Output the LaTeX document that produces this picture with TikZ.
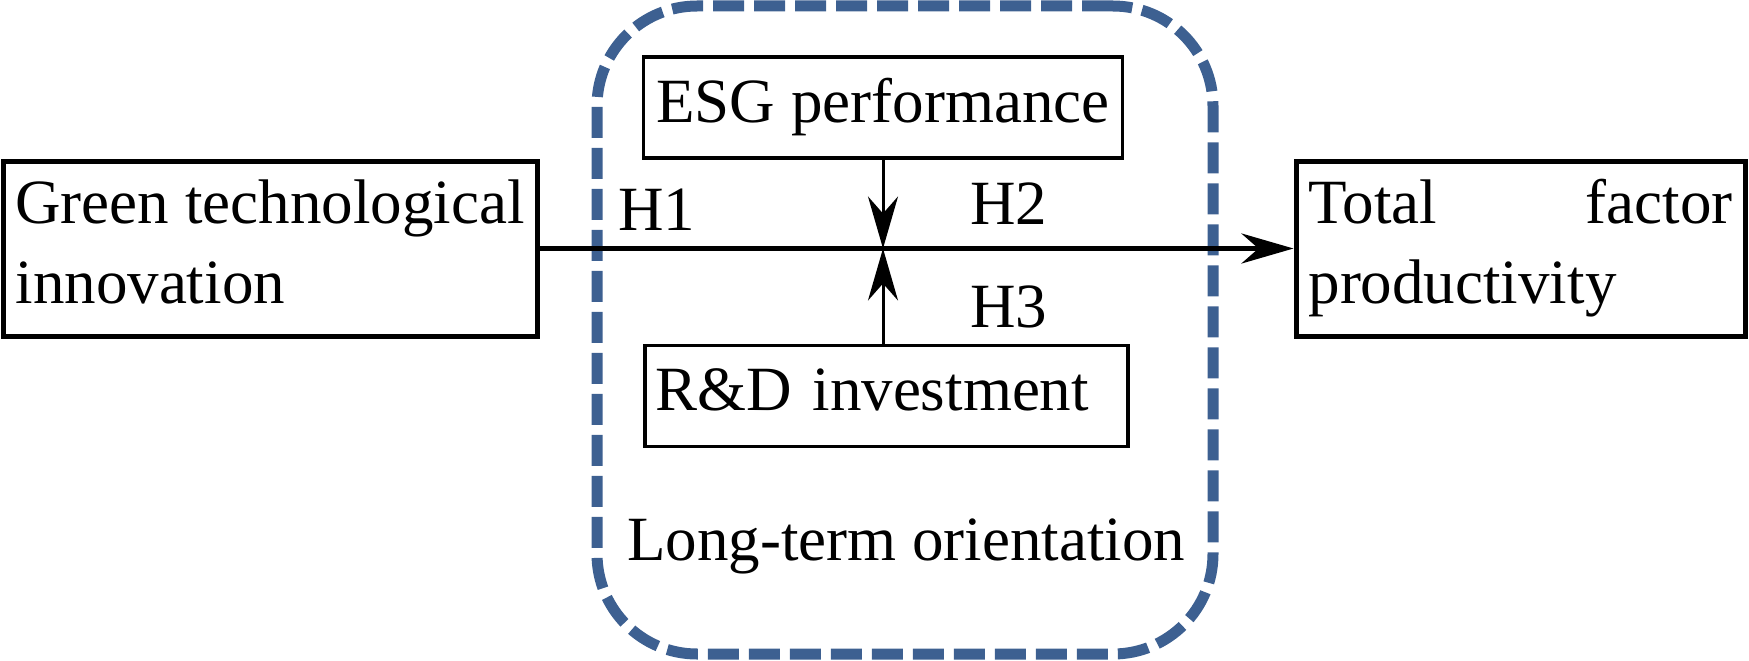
\documentclass[tikz,border=0pt]{standalone}
\usepackage{fontspec}
\setmainfont{Liberation Serif}
\usetikzlibrary{arrows.meta}
\definecolor{dashblue}{RGB}{61,96,145}
\begin{document}
\begin{tikzpicture}[x=1pt,y=-1pt,
  every node/.style={font=\fontsize{63pt}{80pt}\selectfont},
  outerbox/.style={draw, line width=5pt, inner sep=0pt, minimum height=175pt, align=left},
  innerbox/.style={draw, line width=3.5pt, inner sep=0pt, text height=43pt, text depth=14pt, minimum height=101pt},
  hyp/.style={anchor=base west, inner sep=0pt},
  tip/.style={-{Stealth[length=52pt,width=30pt,inset=17pt]}},
  groupbox/.style={draw=dashblue, line width=11pt, rounded corners=100pt, dash pattern=on 31pt off 10pt, inner sep=0pt}
]
\useasboundingbox (0,0) rectangle (1749,661);
\node[groupbox, minimum width=616pt, minimum height=648pt] (lto) at (905,330) {};
\node[outerbox, minimum width=534pt] (gti) at (270,248.5) {Green technological\\innovation\vphantom{p}};
\node[outerbox, text width=424pt, minimum width=449pt] (tfp) at (1520.5,248.5) {Total\hfill factor\\productivity};
\node[innerbox, minimum width=479pt] (esg) at (883,107.5) {ESG performance};
\node[innerbox, minimum width=483pt, text width=463pt, align=left] (rd) at (886.5,396) {R\&D investment};
\coordinate (mid) at (883,248.5);
\draw[line width=5pt, tip] (gti) -- (tfp);
\draw[line width=3pt, tip] (esg) -- (mid);
\draw[line width=3pt, tip] (rd.north -| mid) -- (mid);
\node[hyp] (h1) at (618,230) {H1};
\node[hyp] (h2) at (970,224) {H2};
\node[hyp] (h3) at (970,327) {H3};
\node[hyp] (ltotext) at (627,560) {Long-term orientation};
\end{tikzpicture}
\end{document}
